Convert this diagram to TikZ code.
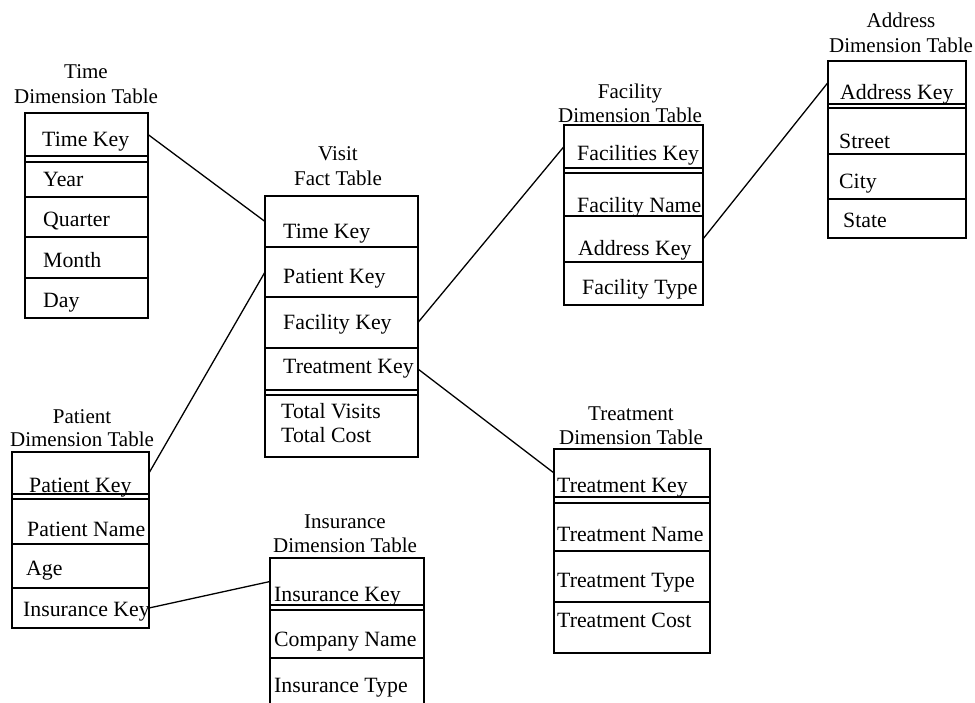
\documentclass[tikz,border=0pt]{standalone}
\usepackage{fontspec}
\setmainfont{Liberation Serif}
\tikzset{
  rowbox/.style={draw, line width=1.2pt, rectangle, inner sep=0pt, outer sep=0pt},
  outerbox/.style={draw, line width=1.2pt, rectangle, inner sep=0pt, outer sep=0pt},
  txt/.style={anchor=base west, inner sep=0pt, font=\fontsize{21.8}{25}\selectfont},
  ttl/.style={anchor=base, inner sep=0pt, font=\fontsize{21}{24}\selectfont},
  link/.style={line width=1.3pt}
}
\newcommand\mkrow[6][rowbox]{\node[#1, minimum width={#5pt-#3pt}, minimum height={#6pt-#4pt}] (#2) at ({(#3+#5)/2},{(#4+#6)/2}) {};}
\newcommand\mktxt[4]{\node[txt] (#1) at (#2,#3) {#4};}
\begin{document}
\begin{tikzpicture}[x=1pt,y=-1pt]
\useasboundingbox (0,0) rectangle (975,702);
% ---------- Time ----------
\node[ttl] (tt1) at (86,78) {Time};
\node[ttl] (tt2) at (86,103) {Dimension Table};
\mkrow[outerbox]{timetab}{25}{113}{148}{318}
\mkrow{tk}{25}{113}{148}{156}
\mkrow{ty}{25}{162}{148}{197}
\mkrow{tq}{25}{197}{148}{237}
\mkrow{tm}{25}{237}{148}{278}
\mkrow{td}{25}{278}{148}{318}
\mktxt{tkt}{42}{146}{Time Key}
\mktxt{tyt}{43}{186}{Year}
\mktxt{tqt}{43}{226}{Quarter}
\mktxt{tmt}{43}{267}{Month}
\mktxt{tdt}{43}{307}{Day}
% ---------- Visit ----------
\node[ttl] (vt1) at (338,160) {Visit};
\node[ttl] (vt2) at (338,185) {Fact Table};
\mkrow[outerbox]{visittab}{265}{196}{418}{457}
\mkrow{vt}{265}{196}{418}{247}
\mkrow{vp}{265}{247}{418}{297}
\mkrow{vf}{265}{297}{418}{348}
\mkrow{vr}{265}{348}{418}{390}
\mkrow{vo}{265}{395}{418}{457}
\mktxt{vtt}{283}{238}{Time Key}
\mktxt{vpt}{283}{283}{Patient Key}
\mktxt{vft}{283}{329}{Facility Key}
\mktxt{vrt}{283}{373}{Treatment Key}
\mktxt{vo1}{281}{418}{Total Visits}
\mktxt{vo2}{281}{442}{Total Cost}
% ---------- Facility ----------
\node[ttl] (ft1) at (630,98) {Facility};
\node[ttl] (ft2) at (630,122) {Dimension Table};
\mkrow[outerbox]{factab}{564}{125}{703}{305}
\mkrow{fk}{564}{125}{703}{168}
\mkrow{fn}{564}{173}{703}{216}
\mkrow{fa}{564}{216}{703}{262}
\mkrow{fy}{564}{262}{703}{305}
\mktxt{fkt}{577}{160}{Facilities Key}
\mktxt{fnt}{577}{212}{Facility Name}
\mktxt{fat}{578}{255}{Address Key}
\mktxt{fyt}{582}{294}{Facility Type}
% ---------- Address ----------
\node[ttl] (at1) at (901,27) {Address};
\node[ttl] (at2) at (901,52) {Dimension Table};
\mkrow[outerbox]{addrtab}{828}{61}{966}{238}
\mkrow{ak}{828}{61}{966}{104}
\mkrow{as}{828}{108}{966}{154}
\mkrow{ac}{828}{154}{966}{199}
\mkrow{ae}{828}{199}{966}{238}
\mktxt{akt}{840}{99}{Address Key}
\mktxt{ast}{839}{148}{Street}
\mktxt{act}{839}{188}{City}
\mktxt{aet}{843}{227}{State}
% ---------- Patient ----------
\node[ttl] (pt1) at (82,423) {Patient};
\node[ttl] (pt2) at (82,446) {Dimension Table};
\mkrow[outerbox]{pattab}{12}{452}{149}{628}
\mkrow{pk}{12}{452}{149}{494}
\mkrow{pn}{12}{499}{149}{544}
\mkrow{pa}{12}{544}{149}{588}
\mkrow{pi}{12}{588}{149}{628}
\mktxt{pkt}{29}{492}{Patient Key}
\mktxt{pnt}{27}{536}{Patient Name}
\mktxt{pat}{26}{575}{Age}
\mktxt{pit}{23}{616}{Insurance Key}
% ---------- Insurance ----------
\node[ttl] (it1) at (345,528) {Insurance};
\node[ttl] (it2) at (345,552) {Dimension Table};
\mkrow[outerbox]{instab}{270}{558}{424}{712}
\mkrow{ik}{270}{558}{424}{605}
\mkrow{ic}{270}{610}{424}{658}
\mkrow{iy}{270}{658}{424}{712}
\mktxt{ikt}{274}{601}{Insurance Key}
\mktxt{ict}{274}{646}{Company Name}
\mktxt{iyt}{274}{692}{Insurance Type}
% ---------- Treatment ----------
\node[ttl] (rt1) at (631,420) {Treatment};
\node[ttl] (rt2) at (631,444) {Dimension Table};
\mkrow[outerbox]{trtab}{554}{449}{710}{653}
\mkrow{rk}{554}{449}{710}{497}
\mkrow{rn}{554}{503}{710}{551}
\mkrow{ry}{554}{551}{710}{602}
\mkrow{rc}{554}{602}{710}{653}
\mktxt{rkt}{557}{492}{Treatment Key}
\mktxt{rnt}{557}{541}{Treatment Name}
\mktxt{ryt}{557}{587}{Treatment Type}
\mktxt{rct}{557}{627}{Treatment Cost}
% ---------- connectors ----------
\draw[link] (tk.east) -- (vt.west);
\draw[link] (pk.east) -- (vp.west);
\draw[link] (vf.east) -- (fk.west);
\draw[link] (vr.east) -- (rk.west);
\draw[link] (fa.east) -- (ak.west);
\draw[link] (pi.east) -- (ik.west);
\end{tikzpicture}
\end{document}
